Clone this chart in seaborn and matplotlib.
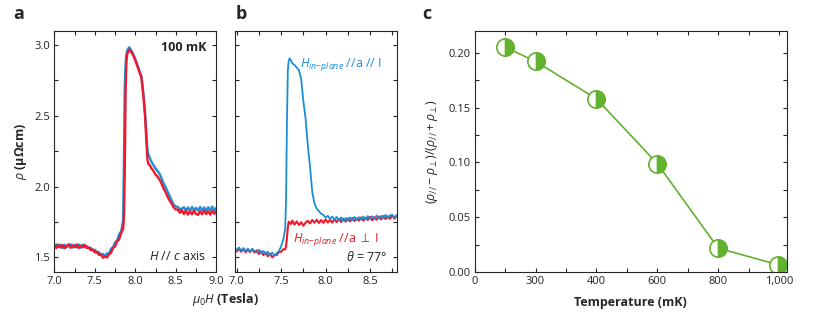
import matplotlib
matplotlib.use("Agg")
import matplotlib.pyplot as plt
import pandas as pd
import seaborn as sns

BLUE = "#1b8fd6"
RED = "#f2182b"
GREEN = "#62b22f"

# panel a: H // c axis, 100 mK
field_a = [7.000, 7.025, 7.050, 7.075, 7.100, 7.125, 7.150, 7.175, 7.200, 7.225,
           7.250, 7.275, 7.300, 7.325, 7.350, 7.375, 7.400, 7.425, 7.450, 7.475,
           7.500, 7.525, 7.550, 7.575, 7.600, 7.625, 7.650, 7.675, 7.700, 7.725,
           7.750, 7.775, 7.800, 7.825, 7.850, 7.860, 7.870, 7.880, 7.890, 7.900,
           7.925, 7.950, 7.975, 8.000, 8.025, 8.050, 8.075, 8.100, 8.120, 8.140,
           8.150, 8.160, 8.180, 8.200, 8.225, 8.250, 8.275, 8.300, 8.325, 8.350,
           8.375, 8.400, 8.425, 8.450, 8.475, 8.500, 8.525, 8.550, 8.575, 8.600,
           8.625, 8.650, 8.675, 8.700, 8.725, 8.750, 8.775, 8.800, 8.825, 8.850,
           8.875, 8.900, 8.925, 8.950, 8.975, 9.000]
rho_a_red = [1.582, 1.566, 1.590, 1.570, 1.588, 1.565, 1.580, 1.592, 1.568, 1.586,
             1.572, 1.591, 1.566, 1.584, 1.571, 1.589, 1.566, 1.570, 1.552, 1.556,
             1.536, 1.540, 1.518, 1.522, 1.498, 1.506, 1.500, 1.522, 1.532, 1.568,
             1.576, 1.615, 1.625, 1.672, 1.700, 1.780, 2.100, 2.650, 2.880, 2.935,
             2.967, 2.950, 2.925, 2.890, 2.850, 2.810, 2.770, 2.640, 2.500, 2.290,
             2.190, 2.162, 2.150, 2.128, 2.110, 2.085, 2.070, 2.048, 2.020, 1.985,
             1.960, 1.925, 1.900, 1.878, 1.852, 1.838, 1.838, 1.815, 1.834, 1.806,
             1.830, 1.802, 1.826, 1.804, 1.832, 1.806, 1.800, 1.826, 1.804, 1.830,
             1.806, 1.826, 1.802, 1.830, 1.808, 1.826]
rho_a_blue = [1.572, 1.592, 1.574, 1.589, 1.567, 1.590, 1.570, 1.586, 1.593, 1.569,
              1.589, 1.571, 1.592, 1.568, 1.590, 1.572, 1.580, 1.566, 1.568, 1.550,
              1.554, 1.534, 1.538, 1.518, 1.524, 1.509, 1.528, 1.526, 1.560, 1.572,
              1.606, 1.619, 1.662, 1.684, 1.760, 2.200, 2.700, 2.860, 2.930, 2.960,
              2.983, 2.962, 2.935, 2.900, 2.862, 2.820, 2.780, 2.660, 2.530, 2.340,
              2.260, 2.230, 2.200, 2.175, 2.150, 2.128, 2.110, 2.090, 2.058, 2.020,
              1.995, 1.962, 1.932, 1.900, 1.872, 1.860, 1.856, 1.840, 1.844, 1.854,
              1.830, 1.852, 1.828, 1.856, 1.832, 1.850, 1.830, 1.856, 1.832, 1.852,
              1.829, 1.854, 1.834, 1.858, 1.832, 1.850]

# panel b: theta = 77 deg
field_b = [6.980, 7.000, 7.025, 7.050, 7.075, 7.100, 7.125, 7.150, 7.175, 7.200,
           7.225, 7.250, 7.275, 7.300, 7.325, 7.350, 7.375, 7.400, 7.425, 7.450,
           7.475, 7.500, 7.525, 7.545, 7.555, 7.565, 7.575, 7.585, 7.595, 7.610,
           7.625, 7.650, 7.675, 7.700, 7.725, 7.750, 7.775, 7.800, 7.825, 7.850,
           7.875, 7.900, 7.925, 7.950, 7.975, 8.000, 8.025, 8.050, 8.075, 8.100,
           8.125, 8.150, 8.175, 8.200, 8.225, 8.250, 8.275, 8.300, 8.325, 8.350,
           8.375, 8.400, 8.425, 8.450, 8.475, 8.500, 8.525, 8.550, 8.575, 8.600,
           8.625, 8.650, 8.675, 8.700, 8.725, 8.750, 8.775, 8.800]
rho_b_par = [1.566, 1.552, 1.570, 1.548, 1.566, 1.544, 1.562, 1.540, 1.560, 1.544,
             1.535, 1.554, 1.528, 1.546, 1.522, 1.540, 1.516, 1.534, 1.512, 1.530,
             1.545, 1.580, 1.630, 1.700, 1.900, 2.450, 2.820, 2.890, 2.905, 2.890,
             2.870, 2.858, 2.840, 2.820, 2.760, 2.600, 2.480, 2.290, 2.140, 1.960,
             1.880, 1.845, 1.826, 1.808, 1.800, 1.782, 1.794, 1.772, 1.788, 1.766,
             1.786, 1.762, 1.782, 1.758, 1.778, 1.760, 1.782, 1.762, 1.786, 1.764,
             1.784, 1.766, 1.788, 1.768, 1.792, 1.772, 1.790, 1.770, 1.796, 1.774,
             1.794, 1.776, 1.800, 1.778, 1.796, 1.802, 1.780, 1.800]
rho_b_perp = [1.556, 1.542, 1.562, 1.540, 1.560, 1.536, 1.556, 1.538, 1.558, 1.534,
              1.550, 1.524, 1.542, 1.516, 1.534, 1.508, 1.526, 1.500, 1.518, 1.516,
              1.538, 1.540, 1.558, 1.556, 1.578, 1.640, 1.710, 1.752, 1.746, 1.736,
              1.760, 1.732, 1.754, 1.728, 1.748, 1.724, 1.746, 1.758, 1.740, 1.764,
              1.744, 1.766, 1.743, 1.764, 1.744, 1.768, 1.746, 1.766, 1.745, 1.770,
              1.749, 1.772, 1.750, 1.774, 1.752, 1.776, 1.754, 1.778, 1.756, 1.776,
              1.759, 1.782, 1.760, 1.780, 1.764, 1.786, 1.762, 1.784, 1.766, 1.788,
              1.768, 1.792, 1.770, 1.790, 1.772, 1.796, 1.774, 1.792]

# panel c: anisotropy vs temperature
temperature = [100, 200, 400, 600, 800, 995]
anisotropy = [0.205, 0.192, 0.158, 0.099, 0.022, 0.007]
temp_ticks = [0, 200, 400, 600, 800, 1000]
temp_ticklabels = ["0", "300", "400", "600", "800", "1,000"]

sns.set_style("ticks")
plt.rcParams["font.family"] = ["Open Sans", "DejaVu Sans"]
plt.rcParams["mathtext.fontset"] = "custom"
plt.rcParams["mathtext.rm"] = "Open Sans"
plt.rcParams["mathtext.it"] = "Open Sans:italic"
plt.rcParams["mathtext.bf"] = "Open Sans:bold"
plt.rcParams["axes.linewidth"] = 0.8

fig = plt.figure(figsize=(8.3, 3.19), dpi=100)
H = 0.7574
B = 0.1464
ax_a = fig.add_axes([0.0654, B, 0.1952, H])
ax_b = fig.add_axes([0.2831, B, 0.1948, H])
ax_c = fig.add_axes([0.5719, B, 0.3759, H])

df_a = pd.DataFrame({"field": field_a, "blue": rho_a_blue, "red": rho_a_red})
sns.lineplot(data=df_a, x="field", y="blue", ax=ax_a, color=BLUE, lw=1.7, sort=False, estimator=None)
sns.lineplot(data=df_a, x="field", y="red", ax=ax_a, color=RED, lw=1.7, sort=False, estimator=None)

df_b = pd.DataFrame({"field": field_b, "par": rho_b_par, "perp": rho_b_perp})
sns.lineplot(data=df_b, x="field", y="perp", ax=ax_b, color=RED, lw=1.5, sort=False, estimator=None)
sns.lineplot(data=df_b, x="field", y="par", ax=ax_b, color=BLUE, lw=1.3, sort=False, estimator=None)

df_c = pd.DataFrame({"T": temperature, "r": anisotropy})
sns.lineplot(data=df_c, x="T", y="r", ax=ax_c, color=GREEN, lw=1.2, marker="o",
             markersize=12.5, fillstyle="right", markerfacecolor=GREEN,
             markerfacecoloralt="white", markeredgecolor=GREEN, markeredgewidth=1.2,
             sort=False, estimator=None)

tick_kw = dict(direction="in", top=True, right=True, length=3, width=0.8,
               labelsize=8, colors="#222222", pad=3)
for ax in (ax_a, ax_b):
    ax.set_ylim(1.395, 3.10)
    ax.set_yticks([1.5, 1.75, 2.0, 2.25, 2.5, 2.75, 3.0])
    ax.set_xlabel("")
    ax.set_ylabel("")
    ax.tick_params(**tick_kw)
ax_a.set_xlim(7.0, 9.0)
ax_a.set_xticks([7.0, 7.25, 7.5, 7.75, 8.0, 8.25, 8.5, 8.75, 9.0])
ax_a.set_xticklabels(["7.0", "", "7.5", "", "8.0", "", "8.5", "", "9.0"])
ax_a.set_yticklabels(["1.5", "", "2.0", "", "2.5", "", "3.0"])
ax_b.set_xlim(6.98, 8.80)
ax_b.set_xticks([7.0, 7.25, 7.5, 7.75, 8.0, 8.25, 8.5, 8.75])
ax_b.set_xticklabels(["7.0", "", "7.5", "", "8.0", "", "8.5", ""])
ax_b.set_yticklabels([])

ax_a.set_ylabel(r"$\rho$ (μΩcm)", fontsize=9, fontweight="bold", labelpad=4)
ax_a.text(0.94, 0.93, "100 mK", transform=ax_a.transAxes, ha="right", va="center",
          fontsize=9, fontweight="bold", color="#222222")
ax_a.text(0.94, 0.065, r"$H$ // $c$ axis", transform=ax_a.transAxes, ha="right", va="center",
          fontsize=9, color="#222222")
ax_b.text(0.40, 0.86, r"$H_{in\mathrm{-}plane}$ //a // I", transform=ax_b.transAxes,
          ha="left", va="center", fontsize=9, color=BLUE)
ax_b.text(0.36, 0.135, r"$H_{in\mathrm{-}plane}$ //a $\perp$ I", transform=ax_b.transAxes,
          ha="left", va="center", fontsize=9, color=RED)
ax_b.text(0.94, 0.065, r"$\theta$ = 77°", transform=ax_b.transAxes, ha="right", va="center",
          fontsize=9, color="#222222")
fig.text(0.271, 0.06, r"$\mu_0H$ (Tesla)", ha="center", va="center", fontsize=9,
         fontweight="bold")

ax_c.set_xlim(0, 1025)
ax_c.set_ylim(0, 0.22)
ax_c.set_xticks(temp_ticks)
ax_c.set_xticklabels(temp_ticklabels)
ax_c.set_xticks([100, 300, 500, 700, 900], minor=True)
ax_c.set_yticks([0.0, 0.05, 0.10, 0.15, 0.20])
ax_c.set_yticklabels(["0.00", "0.05", "0.10", "0.15", "0.20"])
ax_c.set_yticks([0.025, 0.075, 0.125, 0.175], minor=True)
ax_c.tick_params(**tick_kw)
ax_c.tick_params(which="minor", direction="in", top=True, right=True, length=3, width=0.8)
ax_c.set_xlabel("Temperature (mK)", fontsize=9, fontweight="bold", labelpad=6)
ax_c.set_ylabel(r"$(\rho_{//} - \rho_{\perp})/(\rho_{//} + \rho_{\perp})$", fontsize=9,
                fontweight="bold", labelpad=6)

for ax, letter, x in ((ax_a, "a", 0.022), (ax_b, "b", 0.291), (ax_c, "c", 0.514)):
    fig.text(x, 0.955, letter, ha="center", va="center", fontsize=13, fontweight="bold")

fig.savefig("out.png", dpi=100)
